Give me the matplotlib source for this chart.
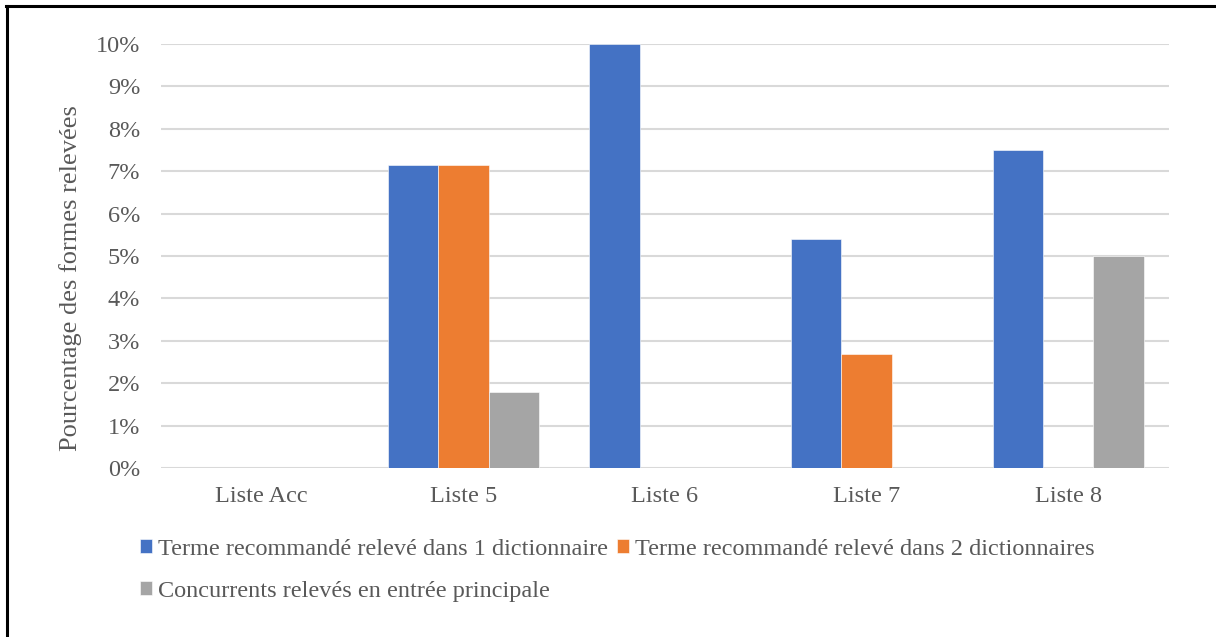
import numpy as np
import matplotlib.pyplot as plt
from matplotlib.lines import Line2D
from matplotlib.ticker import PercentFormatter

categories = ['Liste Acc', 'Liste 5', 'Liste 6', 'Liste 7', 'Liste 8']
series_names = ['Terme recommandé relevé dans 1 dictionnaire',
                'Terme recommandé relevé dans 2 dictionnaires',
                'Concurrents relevés en entrée principale']
un_dico = [0, 7.14, 10.0, 5.41, 7.5]
deux_dicos = [0, 7.14, 0, 2.70, 0]
concurrents = [0, 1.79, 0, 0, 5.0]
colors = ['#4472c4', '#ed7d31', '#a5a5a5']
text_color = '#595959'

plt.rcParams['font.family'] = 'serif'
plt.rcParams['font.serif'] = ['Liberation Serif', 'DejaVu Serif']

fig = plt.figure(figsize=(12.16, 6.37), dpi=100)
ax = fig.add_axes([161 / 1216, 1 - 468 / 637, 1008 / 1216, 424 / 637])

x = np.arange(len(categories))
w = 0.25
handles = []
for i, (vals, name) in enumerate(zip([un_dico, deux_dicos, concurrents], series_names)):
    b = ax.bar(x + (i - 1) * w, vals, width=w, color=colors[i], label=name,
               edgecolor='white', linewidth=0.4, zorder=3)
    handles.append(b)

ax.set_xlim(-0.5, len(categories) - 0.5)
ax.set_ylim(0, 10)
ax.set_yticks(np.arange(0, 11, 1))
ax.yaxis.set_major_formatter(PercentFormatter(decimals=0))
ax.set_xticks(x)
ax.set_xticklabels(categories)
ax.grid(axis='y', color='#d9d9d9', linewidth=1.5, zorder=0)
for s in ax.spines.values():
    s.set_visible(False)
ax.tick_params(length=0, labelsize=17.5, colors=text_color)
ax.tick_params(axis='y', pad=15)
ax.tick_params(axis='x', pad=13)

# y label sits a bit below the axes centre in the original
fig.text(71 / 1216, 1 - 278 / 637, 'Pourcentage des formes relevées', rotation=90,
         ha='center', va='center', fontsize=19, color=text_color)

leg = fig.legend([handles[0], handles[2], handles[1]],
                 [series_names[0], series_names[2], series_names[1]],
                 ncol=2, loc='upper left', bbox_to_anchor=(118 / 1216, 1 - 517 / 637),
                 frameon=False, fontsize=17.5, handlelength=0.5, handleheight=0.5,
                 handletextpad=0.25, columnspacing=0.35, labelspacing=0.85,
                 labelcolor=text_color)

# page frame (left and top edges only visible)
fig.add_artist(Line2D([7 / 1216, 7 / 1216], [0, 1 - 6 / 637], color='black', linewidth=2.2))
fig.add_artist(Line2D([6 / 1216, 1], [1 - 6 / 637, 1 - 6 / 637], color='black', linewidth=2.2))

fig.savefig('out.png', dpi=100, facecolor='white')
